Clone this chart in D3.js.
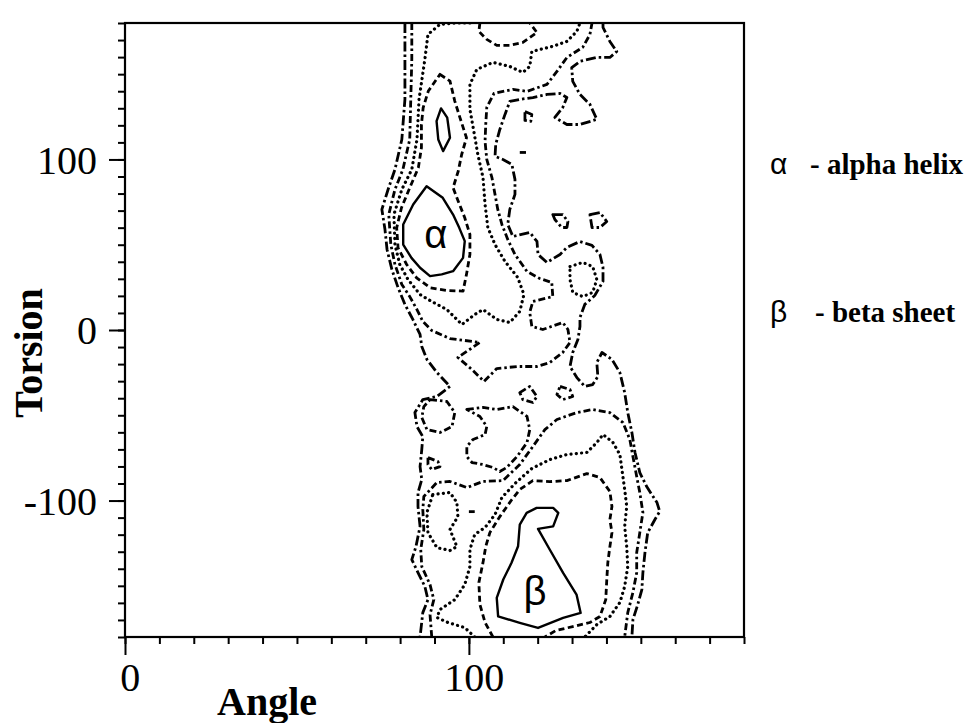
<!DOCTYPE html>
<html>
<head>
<meta charset="utf-8">
<script src="https://cdn.jsdelivr.net/npm/d3@7"></script>
<style>
  html, body { margin: 0; padding: 0; background: #fff; }
  svg { display: block; }
  text { font-family: "Liberation Serif", "Times New Roman", serif; fill: #000; }
</style>
</head>
<body>
<div id="chart"></div>
<script>
// ------------------------------------
// Data: contour traces as [angle, torsion]
// ------------------------------------
const xMinorTicks = d3.range(0, 181, 10);
const yMinorTicks = d3.range(-180, 181, 10);
const xTickLabels = [0, 100];
const yTickLabels = [100, 0, -100];

// level 1 - solid
const alphaCore = [[87.7,84.3],[92.4,77.5],[95.4,67.7],[97.2,59.9],[98.8,52.1],[98.3,42.3],[95.4,34.5],[92.1,32.6],[88.7,31.6],[85.8,36.5],[83.3,42.3],[80.9,50.1],[80.9,61.9],[83.8,73.6]];
const alphaPeak = [[91.9,129.9],[93.7,124.5],[94.5,112.7],[92.5,104.9],[91.1,111.7],[90.6,122.5]];
const betaCore = [[119.7,-104.3],[124.5,-104.3],[126.0,-107.2],[124.5,-115.1],[120.1,-116.6],[123.5,-128.7],[127.4,-142.4],[131.3,-155.1],[132.5,-165.9],[127.4,-168.8],[120.1,-174.7],[114.8,-171.7],[108.5,-167.9],[108.1,-157.1],[110.0,-146.3],[112.4,-136.5],[114.3,-126.8],[114.8,-114.1],[116.8,-107.2]];

// level 2 - dashed
const alphaDashed = [[91.6,149.9],[94.5,145.9],[95.9,134.2],[97.4,124.5],[99.3,112.7],[97.9,102.9],[96.9,93.1],[95.4,83.4],[96.9,75.5],[98.8,65.8],[100.3,56.0],[100.3,44.3],[99.3,32.6],[98.3,22.8],[93.5,23.2],[88.7,24.8],[84.8,30.6],[81.9,38.4],[79.4,48.2],[79.0,59.9],[80.4,71.7],[82.8,83.4],[85.3,95.1],[86.2,106.9],[86.2,120.5],[86.7,130.3],[88.2,140.1]];
const topCapDashed = [[103.2,180],[102.9,175.1],[105.2,170.4],[108.1,166.9],[111.9,166.9],[115.7,168.6],[119.8,174.4],[117.7,180]];
const betaDashed = [[107.0,-180],[104.7,-171.5],[103.2,-161.0],[102.9,-148.1],[104.1,-136.4],[104.9,-127.0],[106.1,-118.8],[109.0,-109.4],[112.5,-99.4],[114.8,-93.5],[118.6,-88.3],[123.5,-88.9],[128.5,-88.3],[134.3,-84.2],[138.1,-86.5],[141.0,-94.7],[141.6,-103.5],[141.0,-111.1],[141.6,-118.8],[141.0,-127.0],[140.4,-136.4],[140.1,-146.3],[139.8,-158.1],[138.1,-168.0],[135.2,-171.5],[130.2,-173.9],[125.3,-176.2],[122.1,-180]];

// level 3 - dotted
const alphaDotted = [[100.3,180],[95.9,180],[91.6,179.2],[88.1,173.3],[87.2,158.7],[85.5,135.2],[84.9,111.7],[83.4,94.1],[80.5,82.4],[78.2,67.7],[78.5,50.1],[79.9,38.4],[82.3,29.6],[85.8,20.8],[89.2,16.7],[93.6,12.0],[98.0,3.2],[101.7,9.1],[104.1,12.0],[108.1,6.2],[111.9,4.4],[114.8,10.9],[116.0,20.8],[114.2,30.8],[110.5,40.2],[107.6,50.1],[105.5,60.1],[104.7,73.6],[104.1,89.4],[102.6,102.9],[101.5,115.8],[100.3,129.3],[100.3,144.0],[102.3,152.8],[107.0,156.9],[111.9,154.5],[115.7,151.0],[117.7,154.5],[118.3,163.3],[124.4,166.3],[128.5,169.2],[131.4,175.1],[132.3,180]];
const betaDotted = [[101.7,-180],[98.8,-174.5],[93.9,-171.5],[90.7,-168.6],[91.6,-163.9],[95.9,-158.1],[98.8,-149.3],[100.3,-138.7],[100.3,-128.7],[101.7,-119.9],[104.7,-115.8],[107.6,-108.2],[109.6,-98.2],[113.4,-90.0],[118.3,-81.2],[123.5,-76.0],[128.5,-73.0],[134.3,-71.8],[137.2,-66.0],[139.0,-61.3],[141.9,-66.0],[143.9,-73.0],[144.5,-81.8],[145.3,-93.5],[145.9,-103.5],[145.3,-115.2],[145.9,-127.0],[146.2,-138.7],[145.3,-150.4],[143.9,-159.8],[141.0,-168.0],[137.2,-172.7],[133.7,-180]];
const betaDottedLoop = [[89.5,-96.5],[94.5,-95.3],[96.5,-101.1],[96.8,-109.4],[94.5,-117.0],[96.5,-127.0],[94.5,-129.3],[90.7,-127.6],[88.1,-118.8],[87.8,-107.0]];
const rightDottedLoop = [[129.4,37.2],[133.1,39.6],[136.0,37.2],[137.2,29.6],[136.0,22.0],[133.1,19.6],[130.2,22.0],[129.4,29.6]];

// level 4 - dash-dot
const alphaDashDot = [[83.4,180],[83.4,158.7],[83.1,135.2],[82.8,111.7],[80.8,94.1],[78.5,82.4],[76.7,67.7],[77.3,50.1],[78.5,38.4],[80.5,26.7],[82.8,19.6],[84.9,12.0],[86.6,5.0],[89.2,-0.3],[94.5,-5.0],[103.2,-7.3],[96.8,-16.1],[100.9,-23.2],[104.4,-30.2],[108.1,-22.6],[114.0,-21.4],[119.8,-21.4],[123.5,-19.1],[127.3,-13.2],[129.4,-7.3],[128.8,0.3],[127.3,4.4],[121.5,0.3],[118.3,2.1],[117.7,10.3],[118.6,16.7],[124.4,19.6],[124.1,27.9],[120.6,30.2],[116.9,34.3],[113.4,44.3],[111.3,53.1],[109.6,61.9],[108.4,70.7],[107.6,79.5],[106.7,89.4],[105.2,100.0],[104.7,110.6],[104.9,120.5],[105.2,130.5],[107.3,138.7],[112.8,141.1],[116.9,139.9],[122.7,144.0],[125.6,151.6],[128.5,159.8],[133.1,165.7],[135.2,173.3],[135.8,180]];
const betaDashDot = [[89.2,-180],[88.7,-166.9],[89.8,-158.1],[88.7,-149.3],[86.3,-138.7],[86.0,-128.7],[86.9,-117.0],[86.6,-105.3],[86.9,-97.6],[90.7,-89.4],[94.5,-88.8],[99.4,-92.4],[104.1,-88.8],[109.9,-88.3],[114.8,-78.9],[118.6,-68.3],[122.1,-58.4],[125.6,-52.5],[131.4,-48.4],[136.0,-46.6],[141.0,-48.4],[144.8,-54.3],[146.8,-64.2],[147.7,-74.2],[148.8,-85.9],[149.7,-95.3],[150.6,-107.0],[149.7,-118.8],[148.8,-130.5],[148.8,-142.2],[147.7,-153.9],[146.2,-165.7],[145.3,-180]];
const ringLoop = [[88.7,-40.8],[93.6,-41.9],[95.9,-48.4],[95.1,-56.6],[91.6,-60.1],[87.8,-58.4],[86.3,-51.3],[86.9,-44.9]];
const triLoop = [[88.1,-74.8],[91.0,-77.1],[91.6,-80.1],[89.2,-81.8],[88.1,-78.9]];
const pocketLoop = [[99.4,-46.6],[104.1,-45.4],[108.1,-46.6],[112.8,-44.9],[116.9,-50.7],[117.7,-58.4],[116.9,-66.0],[114.0,-74.2],[111.0,-80.6],[109.0,-83.0],[107.0,-80.6],[104.1,-78.9],[100.9,-77.7],[99.4,-74.2],[99.4,-68.3],[101.2,-64.2],[104.7,-61.3],[105.2,-56.6],[103.2,-50.7]];
const squareLoopA = [[114.8,-36.7],[117.7,-33.1],[119.8,-39.0],[118.6,-42.5],[115.7,-40.8]];
const squareLoopB = [[126.5,-33.1],[129.4,-34.9],[130.2,-39.0],[127.3,-40.8],[125.6,-37.8]];

// level 5 - outermost dash-dot
const outerLeft = [[81.4,180],[81.4,158.7],[81.4,135.2],[80.5,111.7],[78.5,94.1],[76.5,82.4],[74.7,70.7],[75.6,58.9],[76.2,47.2],[77.6,35.5],[79.4,24.9],[81.4,15.0],[83.7,6.2],[85.8,-2.6],[86.3,-9.7],[87.8,-17.3],[90.7,-24.9],[94.5,-33.1],[90.7,-39.0],[86.6,-40.8],[84.3,-48.4],[84.9,-56.6],[86.6,-62.5],[86.3,-70.1],[85.8,-80.1],[86.3,-87.7],[85.2,-95.3],[85.2,-103.5],[85.8,-115.2],[84.6,-127.0],[83.4,-134.6],[85.2,-142.2],[87.2,-150.4],[88.1,-158.1],[86.6,-165.7],[85.8,-180]];
const outerRight = [[139.0,180],[139.0,177.4],[141.0,169.2],[143.0,163.3],[141.0,159.8],[137.2,159.8],[132.3,157.5],[129.9,153.9],[130.2,145.8],[132.3,138.1],[135.2,132.3],[137.2,123.5],[132.3,120.5],[128.5,120.5],[125.0,124.6],[127.3,130.5],[128.5,136.3],[126.5,138.7],[122.7,138.1],[118.6,136.3],[114.8,135.2],[111.9,134.0],[110.5,126.4],[109.0,117.6],[107.8,108.8],[107.6,101.8],[109.9,100.0],[112.5,97.1],[113.4,88.3],[113.4,79.5],[111.9,70.7],[111.3,61.9],[112.8,54.8],[117.7,57.2],[119.8,51.9],[120.1,44.3],[122.7,39.6],[126.5,44.3],[128.5,48.4],[132.3,51.9],[135.8,49.6],[138.1,44.3],[139.0,36.7],[139.0,28.5],[136.6,20.2],[133.7,15.0],[132.3,7.3],[132.3,2.1],[131.7,-5.6],[130.2,-13.2],[129.4,-21.4],[131.4,-27.9],[133.7,-33.1],[136.0,-32.0],[137.5,-27.3],[137.2,-19.1],[138.7,-13.2],[141.6,-17.3],[143.9,-24.9],[145.3,-36.7],[146.2,-48.4],[147.4,-60.1],[148.3,-71.8],[149.7,-83.6],[151.7,-91.8],[154.7,-101.2],[155.5,-106.4],[154.1,-111.1],[152.0,-118.8],[151.2,-130.5],[150.6,-142.2],[150.3,-152.2],[149.1,-161.0],[147.7,-169.8],[147.4,-180]];
const smallLoopA = [[124.4,67.7],[127.3,67.7],[128.8,63.6],[128.5,60.1],[127.0,60.1],[125.0,64.8]];
const smallLoopB = [[135.2,67.7],[138.1,68.9],[140.1,63.6],[138.1,60.1],[135.8,60.1]];
const tinyLoop = [[116.3,128.1],[118.3,126.4],[118.0,122.3],[116.3,122.9]];

// stray short marks
const strayMarks = [
  [[100.0,-106.5],[101.7,-106.5]],
  [[114.8,104.1],[116.6,104.1]]
];

// region labels [angle, torsion]
const regionLabels = [
  { text: "\u03b1", pos: [90.4, 48] },
  { text: "\u03b2", pos: [119.2, -161] }
];
const legendItems = [
  { symbol: "\u03b1", text: "- alpha helix" },
  { symbol: "\u03b2", text: "- beta sheet" }
];

// ------------------------------------
// Build chart
// ------------------------------------
const width = 975, height = 723;
const plot = { left: 125, right: 744, top: 23, bottom: 637 };

const svg = d3.select("#chart")
    .append("svg")
    .attr("width", width)
    .attr("height", height)
    .style("background", "#fff");

const x = d3.scaleLinear().domain([0, 180]).range([plot.left, plot.right]);
const y = d3.scaleLinear().domain([-180, 180]).range([plot.bottom, plot.top]);

svg.append("clipPath").attr("id", "clip")
  .append("rect")
    .attr("x", plot.left).attr("y", plot.top)
    .attr("width", plot.right - plot.left)
    .attr("height", plot.bottom - plot.top);

// line styles per contour level
const levelDash = { 1: null, 2: "6,3.5", 3: "0.1,5.2", 4: "7,3,2.5,3", 5: "10,3,2.5,3" };

const contours = [
  { pts: alphaCore, level: 1, closed: true },
  { pts: alphaPeak, level: 1, closed: true },
  { pts: betaCore, level: 1, closed: true },
  { pts: alphaDashed, level: 2, closed: true },
  { pts: topCapDashed, level: 2, closed: false },
  { pts: betaDashed, level: 2, closed: false },
  { pts: alphaDotted, level: 3, closed: false },
  { pts: betaDotted, level: 3, closed: false },
  { pts: betaDottedLoop, level: 3, closed: true },
  { pts: rightDottedLoop, level: 3, closed: true },
  { pts: alphaDashDot, level: 4, closed: false },
  { pts: betaDashDot, level: 4, closed: false },
  { pts: ringLoop, level: 4, closed: true },
  { pts: triLoop, level: 4, closed: true },
  { pts: pocketLoop, level: 4, closed: true },
  { pts: squareLoopA, level: 4, closed: true },
  { pts: squareLoopB, level: 4, closed: true },
  { pts: outerLeft, level: 5, closed: false },
  { pts: outerRight, level: 5, closed: false },
  { pts: smallLoopA, level: 5, closed: true },
  { pts: smallLoopB, level: 5, closed: true },
  { pts: tinyLoop, level: 5, closed: true }
];

const openLine = d3.line().x(d => x(d[0])).y(d => y(d[1]));
const closedLine = d3.line().x(d => x(d[0])).y(d => y(d[1])).curve(d3.curveLinearClosed);

const cg = svg.append("g").attr("clip-path", "url(#clip)");

cg.selectAll("path.contour")
  .data(contours)
  .enter()
  .append("path")
    .attr("class", "contour")
    .attr("d", d => (d.closed ? closedLine : openLine)(d.pts))
    .attr("fill", "none")
    .attr("stroke", "#000")
    .attr("stroke-width", d => d.level === 1 ? 2.4 : d.level === 3 ? 3.2 : 2.8)
    .attr("stroke-linecap", d => d.level === 3 ? "round" : "butt")
    .attr("stroke-linejoin", "round")
    .attr("stroke-dasharray", d => levelDash[d.level]);

cg.selectAll("path.stray")
  .data(strayMarks)
  .enter()
  .append("path")
    .attr("class", "stray")
    .attr("d", openLine)
    .attr("fill", "none")
    .attr("stroke", "#000")
    .attr("stroke-width", 2.8);

// region labels inside cores
svg.selectAll("text.region")
  .data(regionLabels)
  .enter()
  .append("text")
    .attr("class", "region")
    .attr("x", d => x(d.pos[0]))
    .attr("y", d => y(d.pos[1]))
    .attr("text-anchor", "middle")
    .style("font-family", "'Liberation Sans', Arial, sans-serif")
    .style("font-size", "40px")
    .text(d => d.text);

// --------- AXES ----------
const axisLeftMinor = d3.axisLeft(y).tickValues(yMinorTicks).tickSize(7).tickFormat("");
const axisLeftMajor = d3.axisLeft(y).tickValues(yTickLabels).tickSize(16).tickPadding(12).tickFormat(d => String(d));
const axisBottomMinor = d3.axisBottom(x).tickValues(xMinorTicks).tickSize(7).tickFormat("");
const axisBottomMajor = d3.axisBottom(x).tickValues(xTickLabels).tickSize(18).tickPadding(8).tickFormat(d => String(d));

function styleAxis(g) {
  g.select(".domain").remove();
  g.selectAll(".tick line").attr("stroke", "#000").attr("stroke-width", 2);
  g.selectAll(".tick text")
    .style("font-family", "'Liberation Serif', 'Times New Roman', serif")
    .style("font-size", "40px")
    .attr("fill", "#000");
}

svg.append("g").attr("transform", `translate(${plot.left},0)`).call(axisLeftMinor).call(styleAxis);
svg.append("g").attr("transform", `translate(${plot.left},0)`).call(axisLeftMajor).call(styleAxis)
  .selectAll(".tick text").attr("dy", "0.34em");
svg.append("g").attr("transform", `translate(0,${plot.bottom})`).call(axisBottomMinor).call(styleAxis);
svg.append("g").attr("transform", `translate(0,${plot.bottom})`).call(axisBottomMajor).call(styleAxis)
  .selectAll(".tick text").attr("dx", "0.12em");

// frame
svg.append("rect")
    .attr("x", plot.left).attr("y", plot.top)
    .attr("width", plot.right - plot.left)
    .attr("height", plot.bottom - plot.top)
    .attr("fill", "none")
    .attr("stroke", "#000")
    .attr("stroke-width", 2.2);

// axis titles
svg.append("text")
    .attr("x", 267).attr("y", 715)
    .attr("text-anchor", "middle")
    .style("font-size", "40px").style("font-weight", "bold")
    .text("Angle");

svg.append("text")
    .attr("transform", "translate(42,353) rotate(-90)")
    .attr("text-anchor", "middle")
    .style("font-size", "40px").style("font-weight", "bold")
    .text("Torsion");

// legend
const legend = svg.append("g").attr("transform", "translate(770,174)");
const item = legend.selectAll("g")
  .data(legendItems)
  .enter()
  .append("g")
    .attr("transform", (d, i) => `translate(0,${i * 148})`);

item.append("text")
    .attr("x", 0)
    .style("font-family", "'Liberation Sans', Arial, sans-serif")
    .style("font-size", "30px")
    .text(d => d.symbol);

item.append("text")
    .attr("x", (d, i) => i === 0 ? 40 : 45)
    .style("font-size", "29px").style("font-weight", "bold")
    .text(d => d.text);
</script>
</body>
</html>
